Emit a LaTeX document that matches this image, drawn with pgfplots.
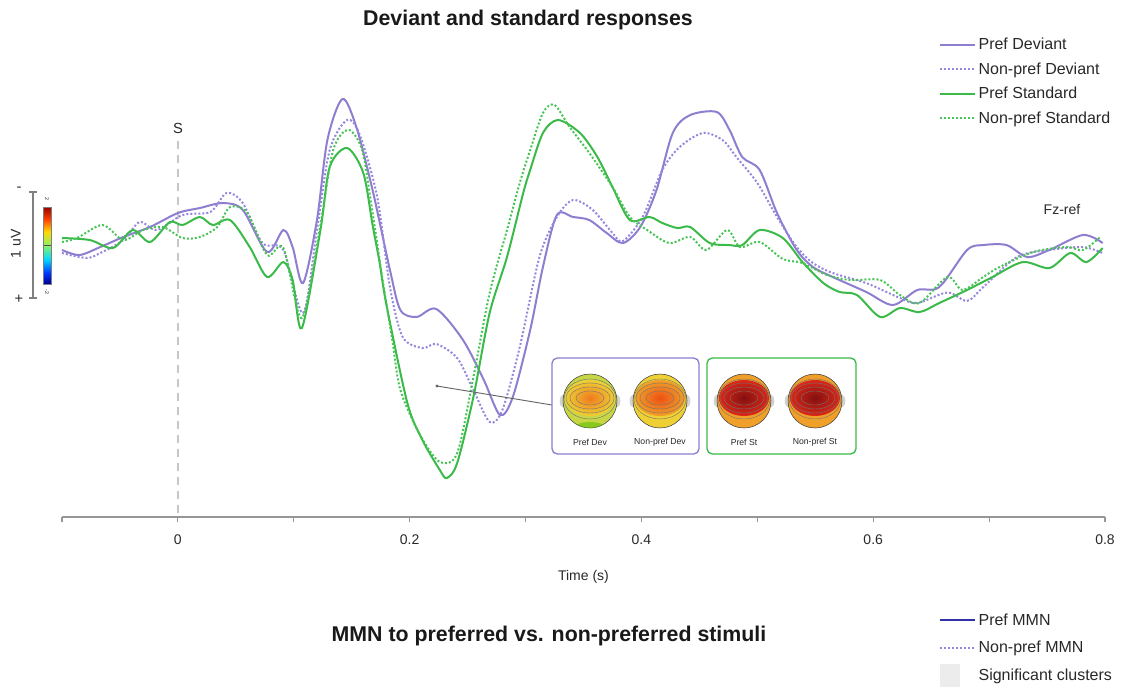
\documentclass[border=0pt]{standalone}
\usepackage{pgfplots}
\pgfplotsset{compat=1.18}
\usepackage{fontspec}
\setmainfont{Liberation Sans}
\definecolor{pur}{RGB}{143,126,208}
\definecolor{purl}{RGB}{150,134,222}
\definecolor{grn}{RGB}{58,186,72}
\definecolor{grnl}{RGB}{70,196,84}
\definecolor{mmnblue}{RGB}{48,48,168}
\definecolor{axgray}{RGB}{150,150,150}
\definecolor{txt}{RGB}{40,40,40}
\definecolor{hYG}{RGB}{200,214,70}
\definecolor{hY}{RGB}{238,208,52}
\definecolor{hO}{RGB}{240,122,32}
\definecolor{hRO}{RGB}{238,80,20}
\definecolor{hR}{RGB}{220,40,24}
\definecolor{hDR}{RGB}{130,16,16}
\definecolor{hOY}{RGB}{240,160,40}
\pgfdeclareverticalshading{jetbar}{100bp}{rgb(0bp)=(0,0,0.5); rgb(25bp)=(0,0,0.55); rgb(32bp)=(0,0.2,1); rgb(41bp)=(0,0.85,1); rgb(50bp)=(0.55,0.95,0.4); rgb(59bp)=(1,0.85,0); rgb(67bp)=(1,0.25,0); rgb(75bp)=(0.6,0,0); rgb(100bp)=(0.6,0,0)}

\newcommand{\head}[5]{% cx cy outer mid inner
  \fill[gray!35] (#1-27.5,#2) ellipse (2.8 and 6);
  \fill[gray!35] (#1+27.5,#2) ellipse (2.8 and 6);
  \fill[#3] (#1,#2) circle (27);
  \begin{scope}
  \clip (#1,#2) circle (27);
  \shade[inner color=#5, outer color=#4] (#1,#2-3) ellipse (25 and 18);
  \end{scope}
  \draw[black!55, line width=0.3pt] (#1,#2-3) ellipse (20 and 11);
  \draw[black!55, line width=0.3pt] (#1,#2-3) ellipse (14 and 7);
  \draw[black!55, line width=0.3pt] (#1,#2-3) ellipse (24 and 15);
  \draw[black!55, line width=0.3pt] (#1,#2-2) ellipse (26 and 20);
  \draw[black!75, line width=0.4pt] (#1,#2) circle (27);
}

\begin{document}
\begin{tikzpicture}
\useasboundingbox (0,0) rectangle (840.75pt,-514.5pt);
\begin{scope}[x=0.75pt,y=-0.75pt]
  \node[font=\fontsize{16}{19}\selectfont\bfseries, text=black!90] at (528,20) {Deviant and standard responses};
  \node[font=\fontsize{11}{13}\selectfont, text=txt] at (178,128) {S};
  \draw[gray!45, line width=1.5pt, dash pattern=on 6pt off 4.5pt] (178,141) -- (178,517);
  \node[font=\fontsize{10.5}{12}\selectfont, text=txt] at (1062,209) {Fz-ref};
  % scale bar
  \draw[gray, line width=0.9pt] (33,192) -- (33,298);
  \draw[gray, line width=0.9pt] (29,192) -- (37,192);
  \draw[gray, line width=0.9pt] (29,298) -- (37,298);
  \node[font=\fontsize{11}{12}\selectfont, text=txt] at (19,189) {-};
  \node[font=\fontsize{11}{12}\selectfont, text=txt] at (19,299) {+};
  \node[font=\fontsize{10.5}{12}\selectfont, text=txt, rotate=90] at (16,244) {1 uV};
  \shade[shading=jetbar] (43,207) rectangle (51,284);
  \draw[black!70, line width=0.5pt] (43,245.5) -- (51,245.5);
  \draw[gray, line width=0.4pt] (43,207) rectangle (51,284);
  \node[font=\fontsize{4}{5}\selectfont, rotate=-90, text=txt] at (47,199) {2};
  \node[font=\fontsize{4}{5}\selectfont, rotate=-90, text=txt] at (47,292) {-2};
  % bottom title
  \node[font=\fontsize{16}{19}\selectfont\bfseries, text=black!90] at (549,636) {MMN to preferred vs. non-preferred stimuli};
  % significant clusters swatch
  \fill[gray!15] (940,664) rectangle (960,688);
\end{scope}

% time axis
\begin{axis}[
  at={(46.5pt,-387.75pt)}, anchor=south west,
  scale only axis, width=782.25pt, height=320.25pt,
  xmin=-0.1, xmax=0.8, ymin=0, ymax=1,
  axis x line*=bottom, hide y axis,
  x axis line style={-, axgray, line width=0.8pt},
  xtick={-0.1,0,0.1,0.2,0.3,0.4,0.5,0.6,0.7,0.8},
  xticklabels={,0,,0.2,,0.4,,0.6,,0.8},
  tick align=outside, major tick length=4pt,
  xtick style={axgray, line width=0.8pt},
  xticklabel style={font=\fontsize{10.5}{12}\selectfont, text=txt, yshift=-5.5pt},
  xlabel={Time (s)},
  xlabel style={font=\fontsize{10.5}{12}\selectfont, text=txt, yshift=-13pt},
  legend style={at={(0.837,-0.213)}, anchor=north west, draw=none, fill=none,
    font=\fontsize{12}{14}\selectfont, text=txt, cells={anchor=west}, row sep=6.4pt},
  legend image code/.code={\draw[#1] (0pt,0pt) -- (22.5pt,0pt); \path (0pt,0pt) -- (26pt,0pt);},
]
\addlegendimage{mmnblue, line width=1.5pt}
\addlegendentry{Pref MMN}
\addlegendimage{purl, line width=1.5pt, dash pattern=on 1.5pt off 1.5pt}
\addlegendentry{Non-pref MMN}
\addlegendimage{white, opacity=0}
\addlegendentry{Significant clusters}
\end{axis}

% ERP curves
\begin{axis}[
  at={(46.5pt,-387.75pt)}, anchor=south west,
  scale only axis, width=782.25pt, height=320.25pt,
  xmin=-0.1, xmax=0.8, ymin=-1.4286, ymax=2.6381, y dir=reverse,
  hide axis, clip=false,
  legend style={at={(0.837,1.135)}, anchor=north west, draw=none, fill=none,
    font=\fontsize{12}{14}\selectfont, text=txt, cells={anchor=west}, row sep=4.2pt},
  legend image code/.code={\draw[#1] (0pt,0pt) -- (22.5pt,0pt); \path (0pt,0pt) -- (26pt,0pt);},
]
\addplot[pur, line width=1.5pt, smooth, tension=0.5] coordinates {
(-0.100,0.095) (-0.085,0.143) (-0.067,0.067) (-0.047,-0.029) (-0.024,-0.124) (0.000,-0.257) (0.019,-0.305) (0.039,-0.352) (0.056,-0.286) (0.077,0.114) (0.091,-0.095) (0.099,0.067) (0.108,0.410) (0.120,-0.190) (0.129,-0.952) (0.142,-1.343) (0.154,-1.076) (0.168,-0.476) (0.183,0.286) (0.192,0.667) (0.206,0.733) (0.223,0.657) (0.246,0.952) (0.264,1.333) (0.278,1.667) (0.289,1.495) (0.304,0.857) (0.315,0.257) (0.327,-0.238) (0.341,-0.219) (0.355,-0.190) (0.370,-0.067) (0.384,0.029) (0.399,-0.124) (0.413,-0.476) (0.427,-1.019) (0.442,-1.190) (0.465,-1.219) (0.476,-1.048) (0.487,-0.790) (0.502,-0.667) (0.517,-0.257) (0.534,0.095) (0.548,0.257) (0.565,0.352) (0.594,0.495) (0.617,0.619) (0.638,0.476) (0.657,0.448) (0.681,0.095) (0.695,0.048) (0.715,0.048) (0.733,0.162) (0.752,0.095) (0.781,-0.048) (0.798,0.029)
};
\addlegendentry{Pref Deviant}
\addplot[purl, line width=1.5pt, dash pattern=on 1.5pt off 1.5pt, smooth, tension=0.5] coordinates {
(-0.100,0.124) (-0.079,0.171) (-0.067,0.124) (-0.047,0.000) (-0.033,-0.171) (-0.018,-0.095) (0.004,-0.238) (0.028,-0.267) (0.042,-0.448) (0.056,-0.352) (0.073,0.029) (0.091,0.095) (0.108,0.695) (0.120,-0.095) (0.131,-0.857) (0.146,-1.143) (0.157,-1.000) (0.172,-0.410) (0.183,0.448) (0.194,0.924) (0.211,1.029) (0.223,0.990) (0.241,1.124) (0.255,1.429) (0.269,1.733) (0.280,1.619) (0.295,1.019) (0.312,0.162) (0.327,-0.219) (0.341,-0.381) (0.358,-0.286) (0.375,-0.067) (0.384,0.010) (0.401,-0.219) (0.418,-0.667) (0.433,-0.886) (0.453,-1.019) (0.470,-0.952) (0.482,-0.790) (0.500,-0.543) (0.517,-0.219) (0.534,0.067) (0.548,0.219) (0.565,0.314) (0.594,0.410) (0.623,0.552) (0.638,0.600) (0.664,0.500) (0.681,0.580) (0.695,0.448) (0.724,0.162) (0.752,0.095) (0.781,0.067) (0.798,0.124)
};
\addlegendentry{Non-pref Deviant}
\addplot[grn, line width=1.5pt, smooth, tension=0.5] coordinates {
(-0.100,-0.019) (-0.076,0.000) (-0.056,0.076) (-0.039,-0.095) (-0.024,0.019) (-0.007,-0.171) (0.004,-0.143) (0.019,-0.219) (0.030,-0.143) (0.045,-0.190) (0.062,0.067) (0.077,0.352) (0.091,0.210) (0.099,0.381) (0.107,0.838) (0.123,-0.095) (0.131,-0.695) (0.146,-0.876) (0.160,-0.638) (0.168,-0.143) (0.174,0.210) (0.180,0.620) (0.198,1.552) (0.211,1.905) (0.226,2.190) (0.232,2.267) (0.241,2.124) (0.255,1.495) (0.269,0.695) (0.284,0.162) (0.298,-0.448) (0.304,-0.667) (0.315,-1.019) (0.328,-1.143) (0.347,-1.019) (0.362,-0.790) (0.375,-0.505) (0.390,-0.190) (0.407,-0.219) (0.418,-0.162) (0.431,-0.114) (0.442,-0.124) (0.459,0.029) (0.476,0.048) (0.487,0.048) (0.502,-0.095) (0.522,-0.019) (0.539,0.210) (0.557,0.410) (0.571,0.495) (0.586,0.524) (0.606,0.733) (0.623,0.648) (0.640,0.686) (0.657,0.600) (0.681,0.476) (0.703,0.352) (0.729,0.210) (0.752,0.267) (0.770,0.124) (0.784,0.210) (0.798,0.076)
};
\addlegendentry{Pref Standard}
\addplot[grnl, line width=1.5pt, dash pattern=on 1.5pt off 1.5pt, smooth, tension=0.5] coordinates {
(-0.100,0.019) (-0.087,-0.019) (-0.065,-0.143) (-0.047,0.000) (-0.030,-0.095) (-0.013,-0.124) (0.004,-0.019) (0.019,-0.029) (0.034,-0.124) (0.045,-0.314) (0.060,-0.257) (0.077,0.143) (0.091,0.076) (0.107,0.743) (0.123,-0.143) (0.134,-0.857) (0.147,-1.050) (0.159,-0.857) (0.167,-0.333) (0.176,0.333) (0.185,0.952) (0.192,1.429) (0.209,1.857) (0.226,2.114) (0.241,2.029) (0.255,1.305) (0.269,0.505) (0.284,-0.095) (0.295,-0.543) (0.304,-0.857) (0.315,-1.210) (0.325,-1.286) (0.338,-1.076) (0.355,-0.829) (0.375,-0.505) (0.390,-0.219) (0.405,-0.095) (0.424,0.029) (0.442,-0.029) (0.456,0.095) (0.474,-0.095) (0.485,0.067) (0.502,0.019) (0.522,0.181) (0.539,0.219) (0.560,0.333) (0.580,0.381) (0.606,0.381) (0.623,0.524) (0.640,0.600) (0.664,0.352) (0.677,0.476) (0.695,0.352) (0.709,0.257) (0.738,0.114) (0.767,0.067) (0.781,0.095) (0.796,-0.029)
};
\addlegendentry{Non-pref Standard}
\end{axis}

\begin{scope}[x=0.75pt,y=-0.75pt]
  \draw[gray!80!black, line width=0.7pt] (437,386) -- (552,405);
  \fill[gray!80!black] (437,386) circle (1.6);
  \draw[pur, line width=1pt, rounded corners=4pt, fill=white] (552,358) rectangle (699,454);
  \draw[grn, line width=1pt, rounded corners=4pt, fill=white] (707,358) rectangle (856,454);
  \head{590}{401}{hYG}{hY}{hO}
  \begin{scope}
    \clip (590,401) circle (27);
    \fill[green!55!yellow!75!black, opacity=0.55] (590,428) ellipse (16 and 6);
  \end{scope}
  \head{660}{401}{hY}{hOY}{hRO}
  \head{744}{401}{hOY}{hR}{hDR}
  \head{815}{401}{hOY}{hR}{hDR}
  \node[font=\fontsize{6.5}{7}\selectfont, text=txt] at (590,442) {Pref Dev};
  \node[font=\fontsize{6.5}{7}\selectfont, text=txt] at (660,442) {Non-pref Dev};
  \node[font=\fontsize{6.5}{7}\selectfont, text=txt] at (744,442) {Pref St};
  \node[font=\fontsize{6.5}{7}\selectfont, text=txt] at (815,442) {Non-pref St};
\end{scope}
\end{tikzpicture}
\end{document}
